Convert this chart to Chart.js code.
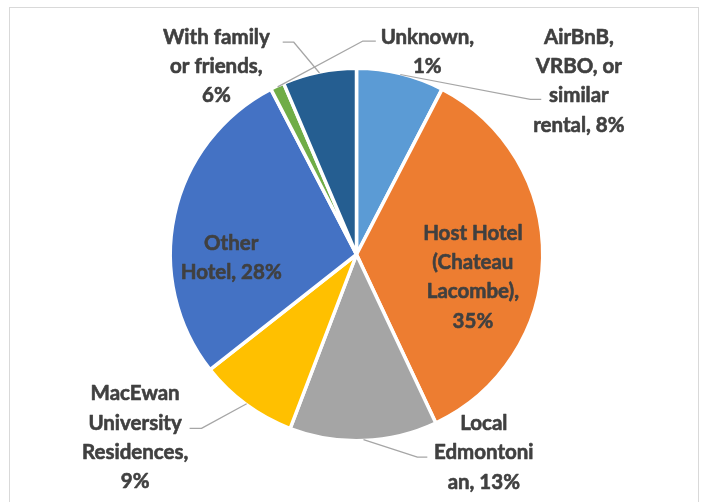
<!DOCTYPE html>
<html>
<head>
<meta charset="utf-8">
<script src="https://cdn.jsdelivr.net/npm/chart.js@4.4.1/dist/chart.umd.min.js"></script>
<style>
  html, body { margin: 0; padding: 0; background: #ffffff; }
  #wrap { position: relative; width: 704px; height: 502px; }
</style>
</head>
<body>
<div id="wrap"><canvas id="c" width="704" height="502"></canvas></div>
<script>
// ---- data ----
const categories = [
  "AirBnB, VRBO, or similar rental",
  "Host Hotel (Chateau Lacombe)",
  "Local Edmontonian",
  "MacEwan University Residences",
  "Other Hotel",
  "Unknown",
  "With family or friends"
];
const shares = [7.6, 35.4, 12.8, 8.6, 28.0, 1.2, 6.4];
const labelLines = [
  ["AirBnB,", "VRBO, or", "similar", "rental, {p}"],
  ["Host Hotel", "(Chateau", "Lacombe),", "{p}"],
  ["Local", "Edmontoni", "an, {p}"],
  ["MacEwan", "University", "Residences,", "{p}"],
  ["Other", "Hotel, {p}"],
  ["Unknown,", "{p}"],
  ["With family", "or friends,", "{p}"]
];
const sliceColors = ["#5B9BD5", "#ED7D31", "#A5A5A5", "#FFC000", "#4472C4", "#70AD47", "#255E91"];

// ---- label layout (offsets from pie centre, in units of the pie radius) ----
const R0 = 186;
const labelLayout = [
  { text: [224.5, -219.5], elbow: [175.5, -156.5], end: [186.5, -156.5] },
  { text: [117.5, -21.5] },
  { text: [128.5, 170.5], elbow: [61.5, 204.5], end: [71.5, 204.5] },
  { text: [-223.5, 140.5], elbow: [-156.5, 175.5], end: [-168.5, 175.5] },
  { text: [-126.5, -11.5] },
  { text: [71.5, -219.5], elbow: [6.5, -215.5], end: [19.5, -215.5] },
  { text: [-141.5, -219.5], elbow: [-63.5, -214.5], end: [-74.5, -214.5] }
].map(o => {
  const s = v => v ? [v[0] / R0, v[1] / R0] : null;
  return { text: s(o.text), elbow: s(o.elbow), end: s(o.end) };
});

const frame = {
  id: 'frame',
  beforeDraw(chart) {
    const ctx = chart.ctx;
    ctx.save();
    ctx.fillStyle = '#ffffff';
    ctx.fillRect(0, 0, chart.width, chart.height);
    ctx.strokeStyle = '#D9D9D9';
    ctx.lineWidth = 1;
    ctx.strokeRect(9.5, 7.5, 689, 520);
    ctx.restore();
  }
};

const labelsPlugin = {
  id: 'pieLabels',
  afterDatasetsDraw(chart) {
    const ctx = chart.ctx;
    const meta = chart.getDatasetMeta(0);
    const total = shares.reduce((a, b) => a + b, 0);
    ctx.save();
    meta.data.forEach((arc, i) => {
      const cx = arc.x, cy = arc.y;
      const r = arc.outerRadius - 2;
      const L = labelLayout[i];
      if (L.elbow) {
        const mid = (arc.startAngle + arc.endAngle) / 2;
        const ax = cx + Math.cos(mid) * (r + 1);
        const ay = cy + Math.sin(mid) * (r + 1);
        ctx.beginPath();
        ctx.strokeStyle = '#A6A6A6';
        ctx.lineWidth = 1.25;
        ctx.moveTo(ax, ay);
        ctx.lineTo(cx + L.elbow[0] * r, cy + L.elbow[1] * r);
        ctx.lineTo(cx + L.end[0] * r, cy + L.end[1] * r);
        ctx.stroke();
      }
      const pct = Math.round(shares[i] / total * 100) + '%';
      ctx.fillStyle = '#404040';
      ctx.strokeStyle = '#404040';
      ctx.lineWidth = 0.6;
      ctx.lineJoin = 'round';
      ctx.font = 'bold 20.5px Lato';
      ctx.textAlign = 'center';
      ctx.textBaseline = 'middle';
      const tx = cx + L.text[0] * r, ty = cy + L.text[1] * r;
      labelLines[i].forEach((line, k) => {
        const t = line.replace('{p}', pct);
        ctx.fillText(t, tx, ty + k * 29.3);
        ctx.strokeText(t, tx, ty + k * 29.3);
      });
    });
    ctx.restore();
  }
};

new Chart(document.getElementById('c'), {
  type: 'pie',
  data: {
    labels: categories,
    datasets: [{
      data: shares,
      backgroundColor: sliceColors,
      borderColor: '#ffffff',
      borderWidth: 3.5,
      hoverOffset: 0
    }]
  },
  options: {
    responsive: false,
    animation: false,
    events: [],
    layout: { padding: { left: 168.5, right: 159.5, top: 66.5, bottom: 59.5 } },
    plugins: {
      legend: { display: false },
      tooltip: { enabled: false },
      title: { display: false }
    }
  },
  plugins: [frame, labelsPlugin]
});
</script>
</body>
</html>
